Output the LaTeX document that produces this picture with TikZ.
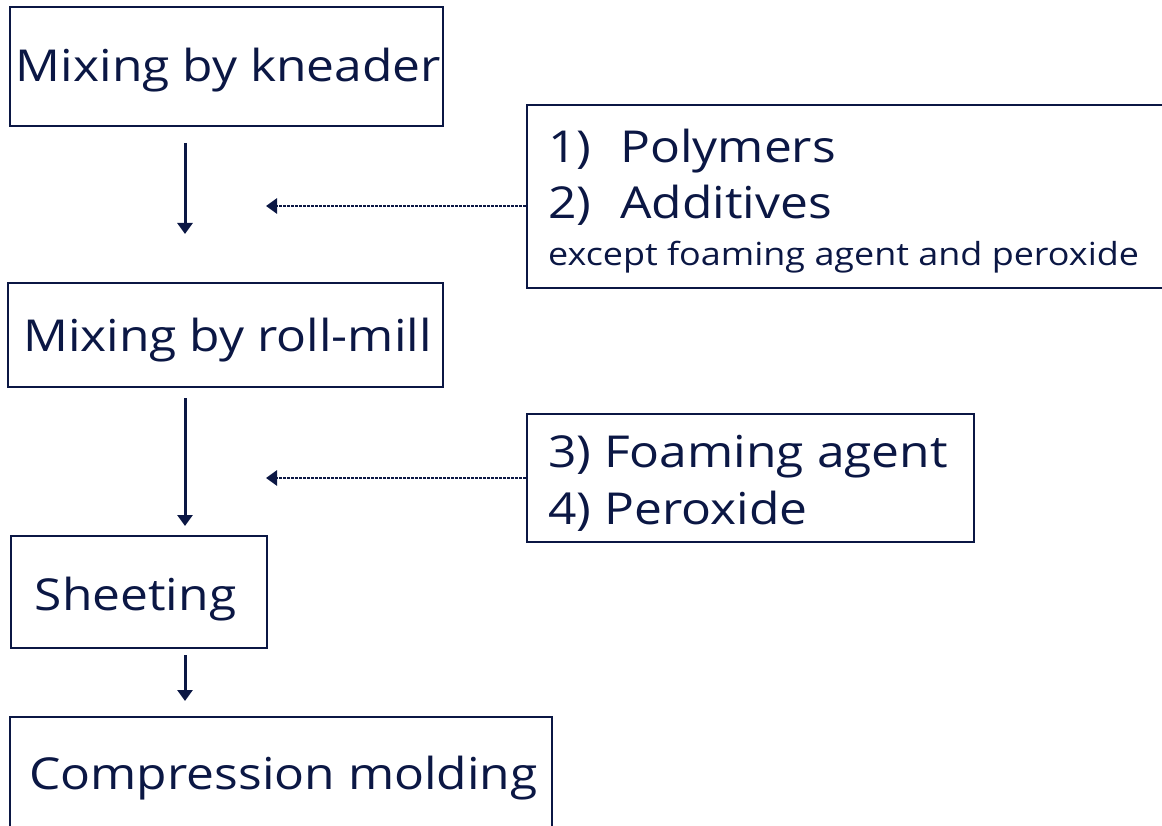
\documentclass[tikz,border=0pt]{standalone}
\usepackage{fontspec}
\setmainfont{Open Sans}[FakeStretch=1.13]
\usetikzlibrary{arrows.meta}
\definecolor{navy}{HTML}{0B1744}
\begin{document}
\begin{tikzpicture}[x=1pt,y=-1pt,
  every node/.style={text=navy, inner sep=0pt},
  box/.style={draw=navy, line width=2.4pt, rectangle},
  big/.style={font=\fontsize{44}{50}\selectfont},
  mid/.style={font=\fontsize{44}{50}\selectfont},
  small/.style={font=\fontsize{31.8}{36}\selectfont},
  flow/.style={draw=navy, line width=3pt, -{Triangle[length=11pt,width=15pt]}},
  feed/.style={draw=navy, line width=2.8pt, dash pattern=on 2.4pt off 1.6pt, -{Triangle[length=11pt,width=15pt]}}
]
\useasboundingbox (0,0) rectangle (1162,826);
% boxes
\node[box, minimum width=433pt, minimum height=119pt] (b1) at (226.5,66.5) {};
\node[box, minimum width=435pt, minimum height=104pt] (b2) at (225.5,335) {};
\node[box, minimum width=256pt, minimum height=112pt] (b3) at (139,592) {};
\node[box, minimum width=542pt, minimum height=163pt] (b4) at (281,798.5) {};
\node[box, minimum width=643pt, minimum height=183pt] (ra) at (848.5,196.5) {};
\node[box, minimum width=447pt, minimum height=128pt] (rb) at (750.5,478) {};
% texts
\node[big, anchor=base] (t1) at (228.5,82) {Mixing by kneader};
\node[big, anchor=base] (t2) at (227.5,352) {Mixing by roll-mill};
\node[big, anchor=base] (t3) at (135.5,610) {Sheeting};
\node[big, anchor=base] (t4) at (283.5,789) {Compression molding};
\node[mid, anchor=base west] (p1n) at (548,163) {1)};
\node[mid, anchor=base west] (p1) at (620,163) {Polymers};
\node[mid, anchor=base west] (p2n) at (548,219) {2)};
\node[mid, anchor=base west] (p2) at (620,219) {Additives};
\node[small, anchor=base west] (p3) at (548,266) {except foaming agent and peroxide};
\node[mid, anchor=base west] (q1) at (548,467) {3) Foaming agent};
\node[mid, anchor=base west] (q2) at (548,524) {4) Peroxide};
% connector ends
\coordinate (a1s) at (185,143);
\coordinate (a1e) at (185,234);
\coordinate (a2s) at (185,398);
\coordinate (a2e) at (185,526);
\coordinate (a3s) at (185,655);
\coordinate (a3e) at (185,701);
\coordinate (f1e) at (266,206);
\coordinate (f2e) at (266,478);
\draw[flow] (a1s) -- (a1e);
\draw[flow] (a2s) -- (a2e);
\draw[flow] (a3s) -- (a3e);
\draw[feed] (ra.west |- f1e) -- (f1e);
\draw[feed] (rb.west |- f2e) -- (f2e);
\end{tikzpicture}
\end{document}
